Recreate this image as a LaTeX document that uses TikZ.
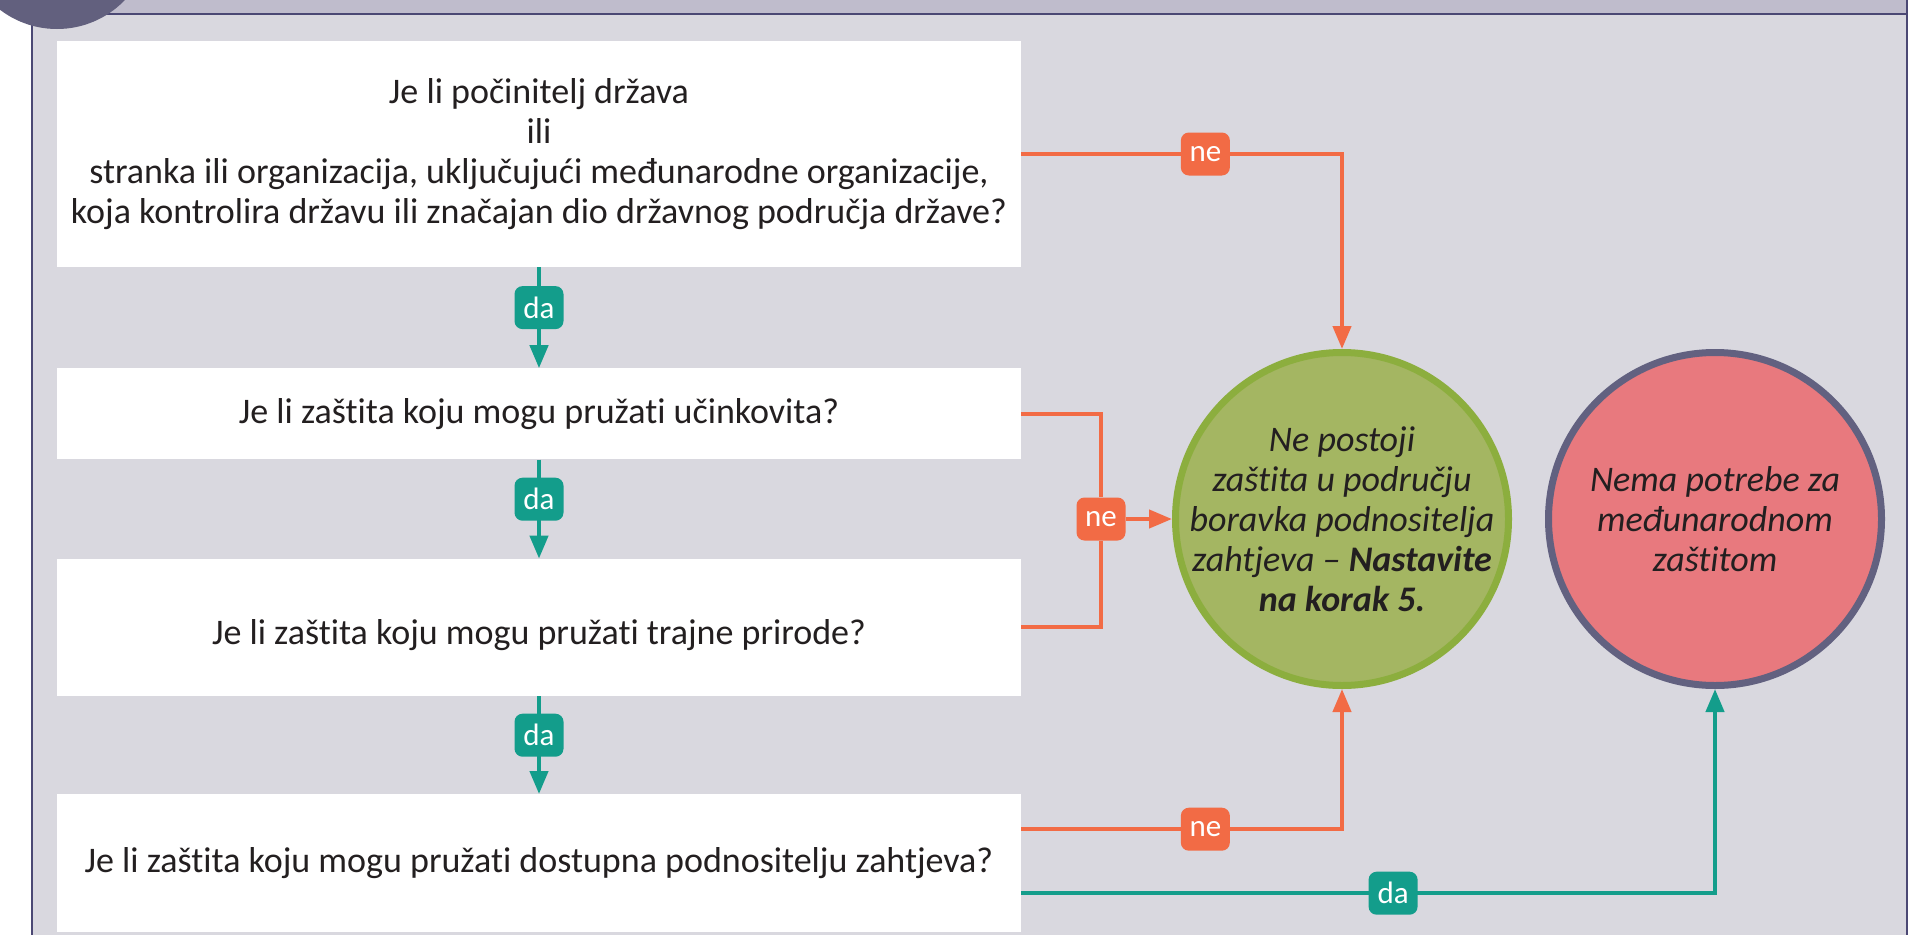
\documentclass[tikz,border=0pt]{standalone}
\usepackage{fontspec}
\setmainfont{Carlito}[RawFeature={-liga;-clig;-dlig;-calt}]
\usetikzlibrary{positioning}
\usetikzlibrary{arrows.meta}
\definecolor{necol}{HTML}{F26B45}
\definecolor{dacol}{HTML}{139D8B}
\definecolor{bgcol}{HTML}{D9D8DF}
\definecolor{bandcol}{HTML}{BFBCCC}
\definecolor{framecol}{HTML}{4B4874}
\definecolor{tabcol}{HTML}{62607E}
\definecolor{txtcol}{HTML}{231F20}
\definecolor{okfill}{HTML}{A4B662}
\definecolor{okline}{HTML}{8CAE3E}
\definecolor{nofill}{HTML}{E8797E}
\definecolor{noline}{HTML}{626180}
\begin{document}
\begin{tikzpicture}[x=1pt,y=1pt,
  flow/.style={-{Triangle[width=18pt,length=23pt,fill=#1]}},
  qbox/.style={fill=white,text=txtcol,minimum width=964pt,inner sep=0pt,align=center,font=\fontsize{36}{40}\selectfont},
  endbox/.style={circle,line width=7pt,minimum size=333pt,inner sep=-20pt,align=center,text=txtcol,font=\fontsize{36}{40}\selectfont\itshape},
  neline/.style={draw,color=necol,line width=4.3pt},
  daline/.style={draw,color=dacol,line width=4.3pt},
  nelab/.style={fill=necol,text=white,rounded corners=8pt,minimum width=49pt,minimum height=43pt,inner sep=2pt,font=\fontsize{31}{31}\selectfont},
  dalab/.style={nelab,fill=dacol}]
\useasboundingbox (0,0) rectangle (1924,-935);
\clip (0,0) rectangle (1924,-935);
% frame
\fill[bgcol] (32,-14) rectangle (1907,-935);
\fill[bandcol] (32,0) rectangle (1907,-14);
\draw[framecol,line width=2pt] (32,-14) -- (1907,-14);
\draw[framecol,line width=2pt] (32,-14) -- (32,-935);
\draw[framecol,line width=2pt] (1907,0) -- (1907,-935);
\fill[tabcol] (57,65) circle[radius=94pt];
% questions
\path node[qbox,minimum height=226pt] (q1) at (539,-154) {Je li počinitelj država\\ili\\stranka ili organizacija, uključujući međunarodne organizacije,\\koja kontrolira državu ili značajan dio državnog područja države?};
\path node[qbox,minimum height=91pt,below=101pt of q1] (q2) {Je li zaštita koju mogu pružati učinkovita?};
\path node[qbox,minimum height=137pt,below=99pt of q2] (q3) {\raisebox{-8pt}[\height][\depth]{Je li zaštita koju mogu pružati trajne prirode?}};
\path node[qbox,minimum height=138pt,below=98pt of q3] (q4) {Je li zaštita koju mogu pružati dostupna podnositelju zahtjeva?};
% outcomes
\path node[endbox,draw=okline,fill=okfill] (ok) at (1342,-519) {Ne postoji\\zaštita u području\\boravka podnositelja\\zahtjeva – \textbf{Nastavite}\\\textbf{na korak 5.}};
\path node[endbox,draw=noline,fill=nofill,right=33pt of ok] (no) {Nema potrebe za\\međunarodnom\\zaštitom};
% da
\path[daline,flow=dacol] (q1) edge node[dalab,pos=0.4] {da} (q2);
\path[daline,flow=dacol] (q2) edge node[dalab,pos=0.4] {da} (q3);
\path[daline,flow=dacol] (q3) edge node[dalab,pos=0.4] {da} (q4);
% ne
\draw[neline,flow=necol] (q1.east) -| node[nelab,pos=0.287] {ne} (ok.north);
\path node[nelab] (nj) at (1101,-519) {ne};
\draw[neline] (q2.east) -| (nj.north);
\draw[neline] (q3.east) -| (nj.south);
\path[neline,flow=necol] (nj) edge (ok);
\draw[neline,flow=necol] ([yshift=34pt]q4.east) -| node[nelab,pos=0.287] {ne} (ok.south);
\draw[daline,flow=dacol] ([yshift=-30pt]q4.east) -| node[dalab,pos=0.268] {da} (no.south);
\end{tikzpicture}
\end{document}
